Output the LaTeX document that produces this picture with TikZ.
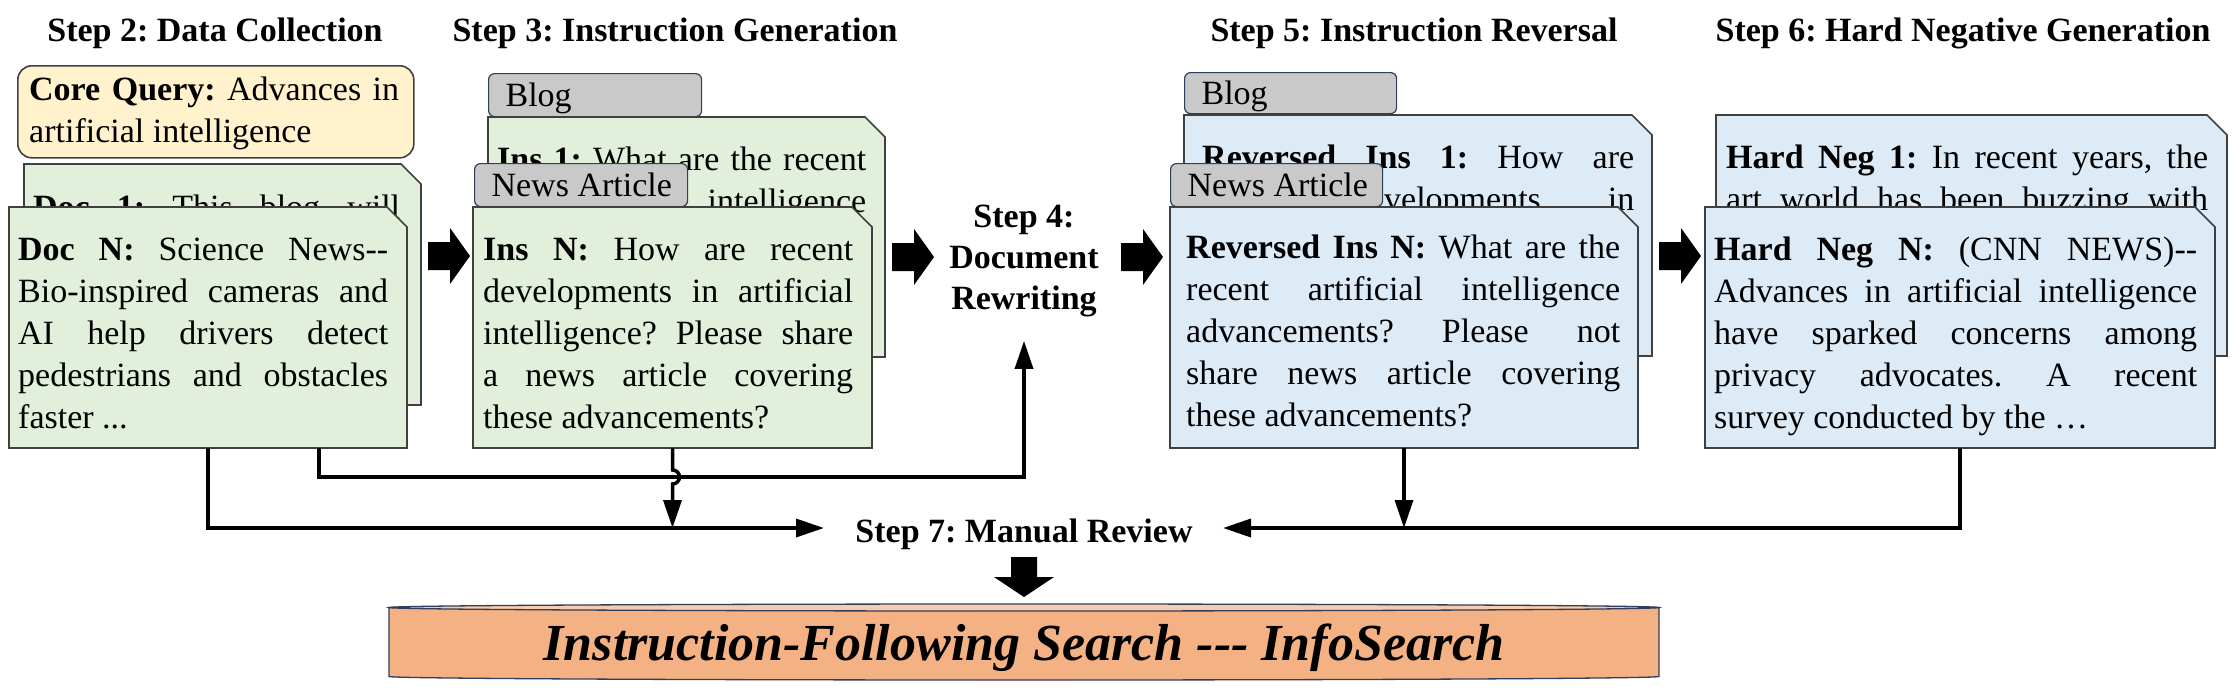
\documentclass[tikz,border=0pt]{standalone}
\usepackage{fontspec}
\setmainfont{Liberation Serif}
\usetikzlibrary{arrows.meta,fit}
\definecolor{gfill}{HTML}{E2EFDA}
\definecolor{bfill}{HTML}{DDEBF7}
\definecolor{tabfill}{HTML}{C9C9C9}
\definecolor{qfill}{HTML}{FFF2CC}
\definecolor{cylfill}{HTML}{F4B183}
\definecolor{cyltop}{HTML}{F8CBAD}
\definecolor{edge}{HTML}{404040}
\definecolor{navy}{HTML}{2F3E5C}
\setlength\parindent{0pt}
\frenchspacing
\hbadness=10000 \hfuzz=3pt
\newcommand\fs{\fontsize{34}{42}\selectfont}
\newcommand\jl[1]{\makebox[\hsize][s]{\spaceskip=0pt\xspaceskip=0pt\relax #1}}
\newcommand\docshape[4]{%
  \path #3 coordinate (#1-nw) #4 coordinate (#1-se);
  \node[fit=(#1-nw)(#1-se), inner sep=0pt, outer sep=0pt] (#1) {};
  \filldraw[docline, fill=#2] (#1.north west) -- ([xshift=-20pt]#1.north east)
    -- ([yshift=-20pt]#1.north east) -- (#1.south east) -- (#1.south west) -- cycle;}
\newcommand\rblock[1]{\fill #1 ++(0,-14) -- ++(22,0) -- ++(0,-14) -- ++(20,28)
   -- ++(-20,28) -- ++(0,-14) -- ++(-22,0) -- cycle;}
\tikzset{
  docline/.style={draw=edge, line width=1.6pt},
  txt/.style={font=\fs, inner sep=0pt, anchor=north west, align=justify, text width=#1},
  tab/.style={draw=navy, fill=tabfill, rounded corners=6pt, line width=1.2pt, font=\fs,
     inner xsep=17pt, inner ysep=0pt, text height=26pt, text depth=3pt,
     anchor=north west, minimum height=#1},
  head/.style={font=\fs\bfseries, anchor=base, inner sep=0pt},
  conn/.style={line width=3.5pt, draw=black},
  tip/.style={-{Triangle[length=28pt,width=18pt]}}
}
\begin{document}
\begin{tikzpicture}[x=1pt,y=-1pt,line join=miter]
\useasboundingbox (0,0) rectangle (2239,694);

% headings
\node[head] (h2) at (215,41) {Step 2: Data Collection};
\node[head] (h3) at (675,41) {Step 3: Instruction Generation};
\node[head] (h5) at (1414,41) {Step 5: Instruction Reversal};
\node[head] (h6) at (1963,41) {Step 6: Hard Negative Generation};

% Step 2
\node[draw=edge, fill=qfill, rounded corners=14pt, line width=1.6pt, minimum width=396pt,
      minimum height=92pt, anchor=north west, inner sep=0pt] (cq) at (17,65) {};
\node[txt=370pt] (cqt) at (29,74) {\rule{0pt}{26pt}\jl{\textbf{Core Query:} Advances in}\\artificial intelligence};
\docshape{doc1}{gfill}{(24,164)}{(421,405)}
\node[txt=367pt] (doc1t) at (33,192) {\rule{0pt}{26pt}\jl{\textbf{Doc 1:} This blog will}};
\docshape{docN}{gfill}{(9,207)}{(407,448)}
\node[txt=370pt] (docNt) at (18,234) {\rule{0pt}{26pt}\jl{\textbf{Doc N:} Science News-{}-}\\
  \jl{Bio-inspired cameras and}\\ \jl{AI help drivers detect}\\ \jl{pedestrians and obstacles}\\ faster ...};

% Step 3
\node[tab=43pt] (tb1) at (488,73) {\makebox[179pt][l]{Blog}};
\docshape{ins1}{gfill}{(488,117)}{(885,357)}
\node[txt=369pt] (ins1t) at (497,144) {\rule{0pt}{26pt}\jl{\textbf{Ins 1:} What are the recent}\\ \jl{artificial intelligence}};
\node[tab=43pt] (tn1) at (474,163) {\makebox[179pt][l]{News Article}};
\docshape{insN}{gfill}{(473,207)}{(872,448)}
\node[txt=370pt] (insNt) at (483,234) {\rule{0pt}{26pt}\jl{\textbf{Ins N:} How are recent}\\
  \jl{developments in artificial}\\ \jl{intelligence? Please share}\\ \jl{a news article covering}\\ these advancements?};

% Step 4
\node[font=\fontsize{34}{41}\selectfont\bfseries, align=center, anchor=north, inner sep=0pt] (step4)
  at (1024,201) {\rule{0pt}{26pt}Step 4:\\Document\\Rewriting};

% Step 5
\node[tab=41pt] (tb2) at (1184,72) {\makebox[178pt][l]{Blog}};
\docshape{rev1}{bfill}{(1184,115)}{(1652,356)}
\node[txt=432pt] (rev1t) at (1202,142) {\rule{0pt}{26pt}\jl{\textbf{Reversed Ins 1:} How are}\\ \jl{recent developments in}};
\node[tab=43pt] (tn2) at (1170,163) {\makebox[178pt][l]{News Article}};
\docshape{revN}{bfill}{(1170,207)}{(1638,448)}
\node[txt=434pt] (revNt) at (1186,232) {\rule{0pt}{26pt}\jl{\textbf{Reversed Ins N:} What are the}\\
  \jl{recent artificial intelligence}\\ \jl{advancements? Please not}\\ \jl{share news article covering}\\ these advancements?};

% Step 6
\docshape{hn1}{bfill}{(1716,115)}{(2227,356)}
\node[txt=482pt] (hn1t) at (1726,142) {\rule{0pt}{26pt}\jl{\textbf{Hard Neg 1:} In recent years, the}\\ \jl{art world has been buzzing with}};
\docshape{hnN}{bfill}{(1705,207)}{(2215,448)}
\node[txt=483pt] (hnNt) at (1714,234) {\rule{0pt}{26pt}\jl{\textbf{Hard Neg N:} (CNN NEWS)-{}-}\\
  \jl{Advances in artificial intelligence}\\ \jl{have sparked concerns among}\\ \jl{privacy advocates. A recent}\\ survey conducted by the …};

% block arrows
\coordinate (a1) at (428,256);
\coordinate (a2) at (892,257);
\coordinate (a3) at (1121,257);
\coordinate (a4) at (1659,256);
\rblock{(a1)}
\rblock{(a2)}
\rblock{(a3)}
\rblock{(a4)}

% Step 7
\node[head] (step7) at (1024,542) {Step 7: Manual Review};
\coordinate (s7w) at (824,528);
\coordinate (s7e) at (1223,528);

% connectors
\draw[conn,tip] (docN.south) |- (s7w);
\draw[conn,tip] ([xshift=111pt]docN.south) -- ++(0,29) -| ([yshift=-24pt]step4.south);
\draw[conn,tip] (insN.south) -- ++(0,22) arc[start angle=-90, end angle=90, radius=7] -- (insN.south |- s7w);
\draw[conn,tip] (revN.south) -- (revN.south |- s7w);
\draw[conn,tip] (hnN.south) |- (s7e);

% down block arrow
\fill (1024,557) ++(-13,0) -- ++(26,0) -- ++(0,20) -- ++(17,0) -- ++(-30,20) -- ++(-30,-20) -- ++(17,0) -- cycle;

% cylinder
\node[inner sep=0pt, outer sep=0pt, minimum width=1270pt, minimum height=76pt, anchor=north west] (db) at (389,604) {};
\filldraw[fill=cylfill, draw=navy, line width=1.3pt] (db.north west) ++(0,3.5) -- ([yshift=3.5pt]db.south west)
   arc[start angle=180, end angle=0, x radius=635, y radius=3.5] -- ([yshift=-3.5pt]db.north east) -- cycle;
\filldraw[fill=cyltop, draw=navy, line width=1.3pt] ([yshift=-3.5pt]db.north) ellipse[x radius=635, y radius=3.5];
\node[font=\fontsize{52}{60}\selectfont\bfseries\itshape, anchor=base, inner sep=0pt] (dbt) at (1024,660)
  {Instruction-Following Search -{}-{}- InfoSearch};
\end{tikzpicture}
\end{document}
